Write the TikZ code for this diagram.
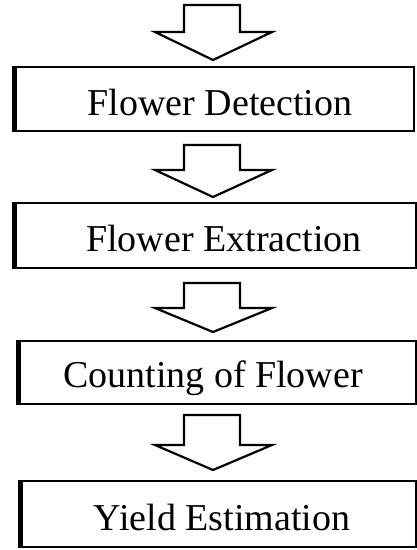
\documentclass[tikz,border=0pt]{standalone}
\usepackage{fontspec}
\setmainfont{Liberation Serif}
\begin{document}
\begin{tikzpicture}[x=1pt,y=-1pt,
  stepbox/.style={draw, line width=1.8pt, rectangle, inner sep=0pt,
    font=\fontsize{38}{40}\selectfont, anchor=north west},
  blockarrow/.style={draw, line width=2.2pt, fill=white, line join=miter}]
\useasboundingbox (0,0) rectangle (417,550);
% boxes
\node[stepbox, minimum width=400pt, minimum height=64pt] (b1) at (13,66) {};
\node[font=\fontsize{38}{40}\selectfont, anchor=base] (t1) at (220,115) {Flower Detection};
\node[stepbox, minimum width=402pt, minimum height=65pt] (b2) at (13,202) {};
\node[font=\fontsize{38}{40}\selectfont, anchor=base] (t2) at (224,251) {Flower Extraction};
\node[stepbox, minimum width=398pt, minimum height=63pt] (b3) at (17,340) {};
\node[font=\fontsize{38}{40}\selectfont, anchor=base] (t3) at (213,387) {Counting of Flower};
\node[stepbox, minimum width=396pt, minimum height=66pt] (b4) at (19,480) {};
\node[font=\fontsize{38}{40}\selectfont, anchor=base] (t4) at (222,530) {Yield Estimation};
% thick left borders
\foreach \b in {b1,b2,b3,b4}
  \draw[line width=4.5pt] ([xshift=1.5pt]\b.north west) -- ([xshift=1.5pt]\b.south west);
% block arrows
\foreach \top/\hd/\tip in {5/32/60, 145/170/197, 283/308/332, 415/445/470}
  \draw[blockarrow] (184,\top) -- (240,\top) -- (240,\hd) -- (272,\hd) -- (213,\tip)
     -- (155,\hd) -- (184,\hd) -- cycle;
\end{tikzpicture}
\end{document}
